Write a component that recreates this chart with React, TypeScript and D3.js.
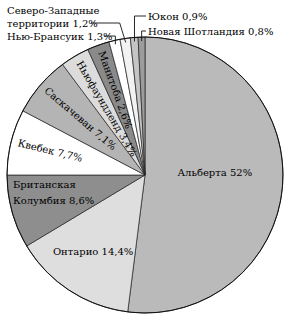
import React from "react";
import * as d3 from "d3";

// доли провинций, по часовой стрелке от 12 часов
const provinces = [
  "Альберта",
  "Онтарио",
  "Британская Колумбия",
  "Квебек",
  "Саскачеван",
  "Ньюфаундленд",
  "Манитоба",
  "Нью-Брансуик",
  "Северо-Западные территории",
  "Юкон",
  "Новая Шотландия",
];
const shares = [52, 14.4, 8.6, 7.7, 7.1, 3.4, 2.6, 1.3, 1.2, 0.9, 0.8];

const W = 291;
const H = 317;
const cx = 145;
const cy = 175;
const R = 138;
const font = "'DejaVu Serif', serif";
const fs = 10;

const color = d3
  .scaleOrdinal<string, string>()
  .domain(provinces)
  .range([
    "#bababa", "#dedede", "#8e8e8e", "#ffffff", "#b4b4b4", "#dcdcdc",
    "#8a8a8a", "#ffffff", "#f2f2f2", "#c4c4c4", "#9c9c9c",
  ]);

const pct = (v: number) => String(v).replace(".", ",") + "%";

export default function App() {
  const pie = d3
    .pie<number>()
    .sort(null)
    .value((d) => d)(shares);
  const arc = d3.arc<d3.PieArcDatum<number>>().innerRadius(0).outerRadius(R);
  const polar = (a: number, r: number): [number, number] => [
    Math.sin(a) * r,
    -Math.cos(a) * r,
  ];

  const labels: React.ReactNode[] = [];
  pie.forEach((s, i) => {
    const name = provinces[i];
    const mid = (s.startAngle + s.endAngle) / 2;
    const key = "l" + i;
    if (i === 0 || i === 1) {
      const rr = i === 0 ? 70 : 95;
      const [x, y] = polar(mid, rr);
      labels.push(
        <text key={key} x={x} y={i === 0 ? y - 6 : y - 2} textAnchor="middle" dominantBaseline="middle">
          {name + " " + pct(shares[i])}
        </text>
      );
    } else if (i === 2) {
      const [, y] = polar(mid, 100);
      const words = name.split(" ");
      labels.push(
        <text key={key} x={-R + 6} y={y - 14} textAnchor="start">
          <tspan x={-R + 6}>{words[0]}</tspan>
          <tspan x={-R + 6} dy={16}>{words[1] + " " + pct(shares[i])}</tspan>
        </text>
      );
    } else if (i >= 3 && i <= 6) {
      const [x, y] = polar(mid, 131);
      const rot = (mid * 180) / Math.PI - 270;
      labels.push(
        <text key={key} transform={`translate(${x},${y}) rotate(${rot})`} textAnchor="start" dominantBaseline="middle">
          {name + " " + pct(shares[i])}
        </text>
      );
    } else {
      const [px, py] = polar(mid, R - 4);
      let tx = 0, ty = 0, lx = 0, ly = 0, ex = px;
      let lines: string[] = [];
      if (i === 7) {
        lines = [name + " " + pct(shares[i])];
        tx = 7 - cx; ty = 40 - cy; lx = 104 - cx; ly = 36 - cy;
      } else if (i === 8) {
        lines = ["Северо-Западные", "территории " + pct(shares[i])];
        tx = 7 - cx; ty = 14 - cy; lx = 91 - cx; ly = 23 - cy; ex = px - 6;
      } else if (i === 9) {
        lines = [name + " " + pct(shares[i])];
        tx = 148 - cx; ty = 20 - cy; lx = 146 - cx; ly = 16 - cy;
      } else {
        lines = [name + " " + pct(shares[i])];
        tx = 148 - cx; ty = 35 - cy; lx = 146 - cx; ly = 31 - cy;
      }
      labels.push(
        <g key={key}>
          <polyline points={`${lx},${ly} ${ex},${ly} ${px},${py}`} fill="none" stroke="#111" strokeWidth={0.9} />
          <text x={tx} y={ty}>
            {lines.map((t, j) => (
              <tspan key={j} x={tx} dy={j === 0 ? 0 : 13}>{t}</tspan>
            ))}
          </text>
        </g>
      );
    }
  });

  return (
    <svg width={W} height={H} style={{ position: "absolute", left: 0, top: 0, background: "#fff" }}>
      <g transform={`translate(${cx},${cy})`}>
        {pie.map((s, i) => (
          <path key={i} d={arc(s) || ""} fill={color(provinces[i])} stroke="#222" strokeWidth={0.7} />
        ))}
        <circle r={R} fill="none" stroke="#111" strokeWidth={1} />
        <g fontFamily={font} fontSize={fs} fill="#000">
          {labels}
        </g>
      </g>
    </svg>
  );
}
